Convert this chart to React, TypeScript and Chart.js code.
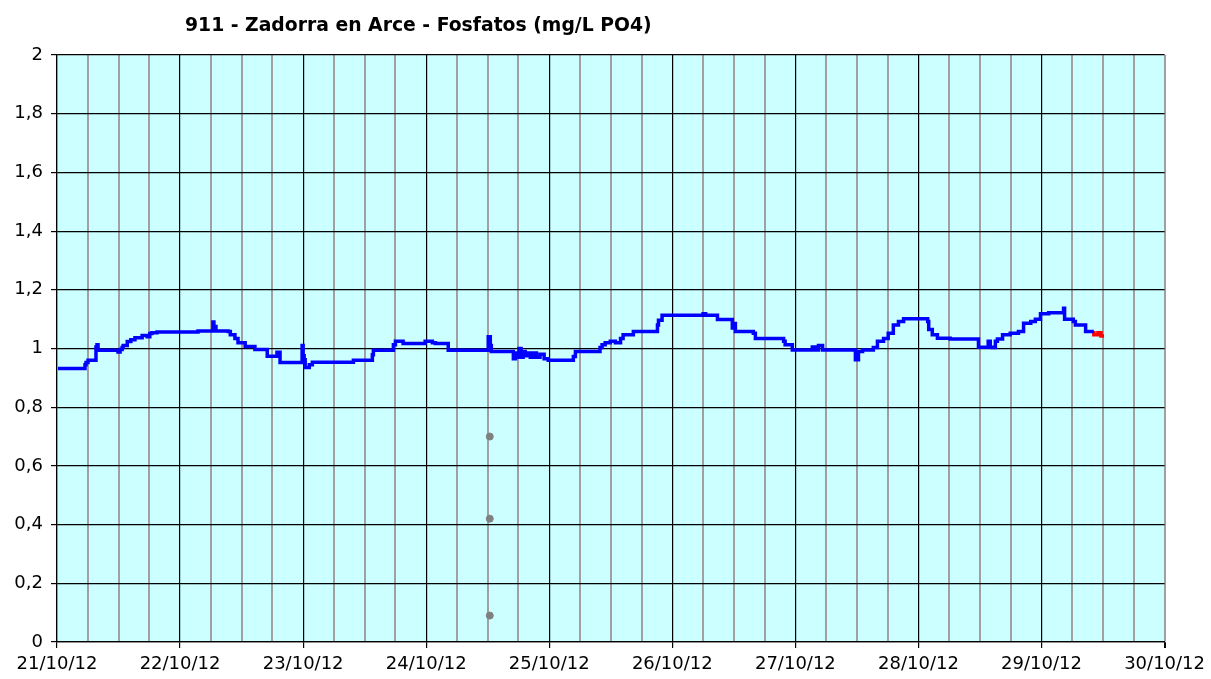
import React, { useEffect, useRef } from 'react';
import { Chart, registerables } from 'chart.js';

Chart.register(...registerables);

const TITLE = '911 - Zadorra en Arce - Fosfatos (mg/L PO4)';

const DAY_LABELS = ['21/10/12', '22/10/12', '23/10/12', '24/10/12', '25/10/12', '26/10/12', '27/10/12', '28/10/12', '29/10/12', '30/10/12'];

// hours since 21/10/12 00:00
const BLUE_HOURS = [
  0.2, 5.46, 5.66, 6.05, 7.2, 7.6, 7.8, 8.0, 8.2, 11.9, 12.3, 12.7, 12.9, 13.7, 14.4, 15.2, 16.6, 17.6, 18.1, 18.5, 19.5, 20.1,
  27.5, 28.3, 30.4, 30.6, 31.0, 31.4, 33.4, 33.8, 34.7, 35.3, 36.7, 38.6, 39.0, 41.0, 41.2, 42.9, 43.1, 43.5, 43.9,
  47.8, 48.0, 48.2, 48.4, 49.2, 49.8, 50.3, 57.8, 58.1, 61.5, 61.7, 62.4, 65.6, 66.0, 67.5, 67.9, 71.8, 73.2, 73.8, 76.3, 76.7,
  84.1, 84.5, 84.7, 85.1, 89.0, 89.4, 89.7, 90.1, 90.5, 90.9, 91.3, 91.9, 92.3, 92.9, 93.5, 94.2, 95.0, 95.8, 96.6,
  100.7, 101.1, 101.7, 105.9, 106.3, 106.9, 107.9, 108.9, 109.9, 110.4, 112.4, 113.8, 117.1, 117.3, 118.0, 119.0,
  126.0, 126.5, 126.8, 128.8, 129.0, 131.7, 131.9, 132.3, 132.7, 135.8, 136.2, 138.1, 141.7, 142.0, 143.4, 144.0,
  147.3, 147.9, 148.5, 149.3, 149.9, 155.7, 156.3, 157.1, 159.2, 160.0, 161.2, 162.1, 163.1, 164.1, 165.1, 167.4,
  169.8, 170.0, 170.7, 171.7, 174.2, 174.8, 179.7, 180.1, 181.6, 182.0, 182.4, 183.0, 183.4, 184.4, 185.9, 187.5,
  188.5, 189.9, 190.8, 191.8, 193.4, 194.1, 196.3, 196.5, 196.7, 198.2, 198.6, 200.6, 201.0, 202.2,
];
const BLUE_VALUES = [
  0.932, 0.932, 0.945, 0.952, 0.96, 0.96, 1.005, 1.013, 0.994, 0.994, 0.988, 0.997, 1.003, 1.01, 1.024, 1.03, 1.037, 1.044, 1.04, 1.051, 1.054, 1.056,
  1.056, 1.06, 1.06, 1.09, 1.075, 1.06, 1.06, 1.058, 1.047, 1.034, 1.02, 1.007, 0.997, 0.997, 0.974, 0.974, 0.987, 0.987, 0.952,
  0.952, 1.01, 0.975, 0.962, 0.935, 0.945, 0.953, 0.953, 0.96, 0.96, 0.979, 0.994, 0.994, 1.013, 1.025, 1.017, 1.017, 1.025, 1.02, 1.017, 0.994,
  0.994, 1.04, 1.01, 0.99, 0.99, 0.965, 0.985, 0.97, 1.0, 0.97, 0.99, 0.975, 0.985, 0.97, 0.985, 0.97, 0.98, 0.965, 0.96,
  0.96, 0.973, 0.99, 0.99, 1.003, 1.013, 1.02, 1.025, 1.02, 1.034, 1.047, 1.058, 1.058, 1.08, 1.096, 1.113,
  1.113, 1.118, 1.113, 1.113, 1.099, 1.099, 1.07, 1.085, 1.058, 1.058, 1.052, 1.034, 1.034, 1.025, 1.013, 0.995,
  0.995, 1.005, 0.995, 1.01, 0.995, 0.995, 0.962, 0.99, 0.995, 1.003, 1.025, 1.034, 1.052, 1.08, 1.092, 1.101,
  1.101, 1.092, 1.065, 1.047, 1.035, 1.032, 1.032, 1.004, 1.004, 1.025, 1.004, 1.003, 1.025, 1.032, 1.047, 1.052,
  1.058, 1.086, 1.092, 1.1, 1.118, 1.122, 1.122, 1.137, 1.1, 1.1, 1.092, 1.08, 1.058, 1.058,
];

const RED_HOURS = [202.2, 203.0, 203.6, 204.2];
const RED_VALUES = [1.06, 1.047, 1.054, 1.043];

const GRAY_HOURS = [84.4, 84.4, 84.4];
const GRAY_VALUES = [0.7, 0.42, 0.09];

const toXY = (xs: number[], ys: number[]) => xs.map((x, i) => ({ x, y: ys[i] }));

const FONT = 'DejaVu Sans, Verdana, sans-serif';

const bgPlugin = {
  id: 'plotBg',
  beforeDraw(chart: any) {
    const { ctx, chartArea } = chart;
    if (!chartArea) return;
    ctx.save();
    ctx.fillStyle = '#CCFFFF';
    ctx.fillRect(chartArea.left, chartArea.top, chartArea.right - chartArea.left, chartArea.bottom - chartArea.top);
    ctx.restore();
  },
};

const titlePlugin = {
  id: 'leftTitle',
  afterDraw(chart: any) {
    const { ctx } = chart;
    ctx.save();
    ctx.font = `bold 18.8px ${FONT}`;
    ctx.fillStyle = '#000';
    ctx.textBaseline = 'middle';
    ctx.textAlign = 'left';
    ctx.fillText(TITLE, 185, 26);
    ctx.restore();
  },
};

export default function App() {
  const canvasRef = useRef<HTMLCanvasElement | null>(null);

  useEffect(() => {
    if (!canvasRef.current) return;
    const chart = new Chart(canvasRef.current, {
      type: 'line',
      data: {
        datasets: [
          {
            label: 'Fosfatos',
            data: toXY(BLUE_HOURS, BLUE_VALUES),
            borderColor: '#0000FF',
            borderWidth: 3.5,
            pointRadius: 0,
            stepped: 'after',
            fill: false,
          },
          {
            label: 'Fosfatos (provisional)',
            data: toXY(RED_HOURS, RED_VALUES),
            borderColor: '#FF0000',
            borderWidth: 3.5,
            pointRadius: 0,
            stepped: 'after',
            fill: false,
          },
          {
            label: 'Muestras',
            data: toXY(GRAY_HOURS, GRAY_VALUES),
            showLine: false,
            pointRadius: 3.5,
            pointStyle: 'circle',
            pointBackgroundColor: '#808080',
            pointBorderColor: '#808080',
            borderColor: '#808080',
          },
        ],
      },
      options: {
        animation: false,
        responsive: true,
        maintainAspectRatio: false,
        layout: { padding: { top: 55, right: 46, left: 0, bottom: 0 } },
        plugins: {
          legend: { display: false },
          title: { display: false },
          tooltip: { enabled: false },
        },
        scales: {
          x: {
            type: 'linear',
            min: 0,
            max: 216,
            afterFit(scale: any) {
              scale.height = 37;
            },
            ticks: {
              stepSize: 6,
              autoSkip: false,
              maxRotation: 0,
              padding: 6,
              color: '#000',
              font: { family: FONT, size: 18 },
              callback: (v: any) => {
                const n = Number(v);
                return n % 24 === 0 ? DAY_LABELS[n / 24] : '';
              },
            },
            grid: {
              color: (c: any) => {
                const v = c.tick ? c.tick.value : 0;
                if (v === 216) return '#A0A0A0';
                return v % 24 === 0 ? '#000000' : '#A0A0A0';
              },
              lineWidth: (c: any) => {
                const v = c.tick ? c.tick.value : 0;
                return v % 24 === 0 && v !== 216 ? 1.2 : 2;
              },
              tickLength: 6,
              tickColor: (c: any) => {
                const v = c.tick ? c.tick.value : 0;
                return v % 24 === 0 ? '#000000' : 'rgba(0,0,0,0)';
              },
            },
            border: { display: true, color: '#000', width: 1.2 },
          },
          y: {
            min: 0,
            max: 2,
            afterFit(scale: any) {
              scale.width = 57;
            },
            ticks: {
              stepSize: 0.2,
              padding: 8,
              color: '#000',
              font: { family: FONT, size: 18 },
              callback: (v: any) => String(Number(Number(v).toFixed(1))).replace('.', ','),
            },
            grid: {
              color: '#000000',
              lineWidth: 1.2,
              tickLength: 6,
              tickColor: '#000000',
            },
            border: { display: true, color: '#000', width: 1.2 },
          },
        },
      },
      plugins: [bgPlugin, titlePlugin],
    });
    return () => chart.destroy();
  }, []);

  return (
    <div style={{ position: 'fixed', left: 0, top: 0, width: 1211, height: 679, background: '#fff' }}>
      <canvas ref={canvasRef} width={1211} height={679} style={{ width: 1211, height: 679 }} />
    </div>
  );
}
